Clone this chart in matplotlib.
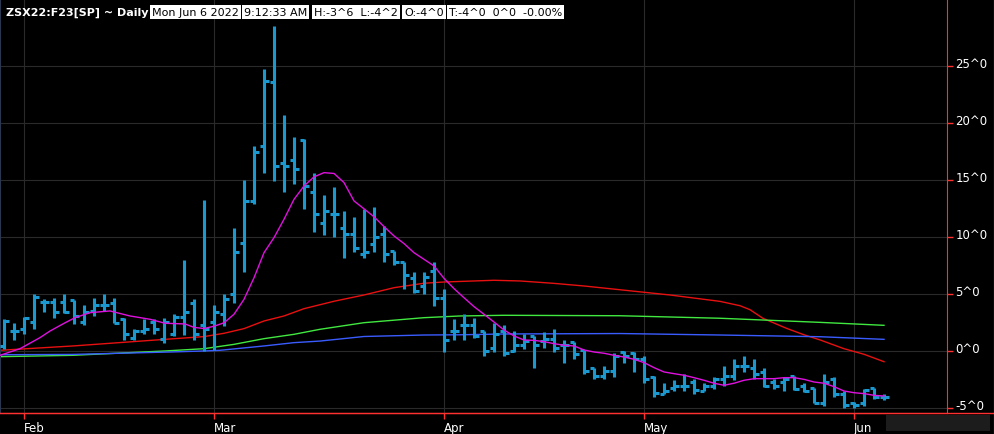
import numpy as np
import pandas as pd
import matplotlib
matplotlib.use('Agg')
import matplotlib.pyplot as plt
import matplotlib.transforms as mtransforms
from matplotlib.lines import Line2D

# trading days shown on the chart (Jan 28 .. Jun 6 2022)
dates = pd.bdate_range('2022-01-28', '2022-06-06', freq='C',
                       holidays=['2022-02-21', '2022-04-15', '2022-05-30'])

# daily OHLC bars (spread, in points)
opens = [0.5, 1.8, 2.0, 2.6, 4.35, 4.35, 4.35, 4.5, 2.55, 3.55, 4.05, 4.25, 2.8, 1.2, 1.8, 2.55,
         1.05, 1.5, 3.0, 4.25, 2.3, 2.55, 3.25, 5.0, 9.5, 13.2, 18.0, 23.6, 16.5, 16.75, 18.55,
         14.0, 11.25, 12.0, 10.8, 10.25, 8.5, 9.45, 10.25, 8.8, 7.85, 6.45, 5.75, 7.05, 4.7,
         1.8, 2.3, 2.3, 1.8, 0.25, 1.8, 0.05, 0.55, 1.35, 0.9, 1.05, 0.55, 0.8, 0.1, -1.45,
         -2.15, -1.75, -0.1, -0.15, -0.7, -2.25, -3.7, -3.25, -3.0, -2.65, -3.5, -3.0, -2.45,
         -2.15, -1.25, -1.5, -1.85, -2.65, -2.65, -2.15, -3.0, -3.25, -4.5, -2.45, -3.7, -4.5,
         -4.5, -3.2, -4.0]
highs = [2.8, 2.5, 3.0, 5.0, 4.6, 4.7, 5.0, 4.5, 4.05, 4.7, 5.0, 4.7, 2.9, 2.0, 2.8, 2.8,
         2.95, 3.25, 8.0, 4.55, 13.25, 4.05, 5.0, 10.8, 15.0, 18.0, 24.75, 28.5, 20.7, 18.8, 18.6,
         15.65, 13.75, 14.45, 12.3, 11.75, 12.5, 12.7, 10.95, 8.8, 7.85, 6.95, 6.95, 7.8, 5.5,
         2.8, 3.25, 2.95, 1.8, 2.5, 2.3, 1.8, 1.5, 1.35, 1.7, 2.0, 1.0, 0.8, 0.1, -1.45,
         -1.25, -0.15, 0.05, -0.1, -0.45, -2.15, -2.75, -2.5, -1.95, -2.45, -2.75, -2.25, -1.25,
         -0.7, -0.45, -0.7, -1.5, -2.45, -2.25, -2.15, -2.75, -3.2, -1.95, -2.25, -3.5, -4.45,
         -3.3, -3.2, -3.75]
lows = [0.2, 1.0, 1.5, 2.0, 3.45, 2.95, 3.4, 2.4, 2.3, 3.1, 3.55, 2.45, 1.0, 1.0, 1.5, 1.5,
        0.75, 1.35, 1.4, 1.0, 0.0, 0.15, 2.2, 4.25, 7.0, 12.95, 15.6, 14.9, 14.0, 14.7, 12.5,
        10.5, 10.2, 10.0, 8.2, 8.7, 8.2, 8.7, 7.8, 7.55, 5.5, 5.15, 5.0, 4.0, -0.05,
        1.0, 1.0, 1.2, -0.45, -0.05, -0.45, -0.1, 0.2, -1.5, 0.25, -0.05, -1.0, -0.7, -1.95, -2.45,
        -2.45, -2.25, -1.0, -1.8, -2.75, -4.0, -3.75, -3.5, -3.5, -3.75, -3.5, -3.3, -3.0,
        -2.5, -1.8, -2.45, -3.1, -3.3, -3.5, -3.35, -3.55, -4.55, -4.8, -4.0, -4.95, -4.95,
        -4.8, -4.2, -4.25]
closes = [2.7, 1.8, 2.95, 4.75, 4.35, 3.45, 3.45, 3.1, 3.45, 4.05, 4.05, 2.5, 1.5, 1.8, 2.0, 1.95,
          2.55, 3.0, 3.45, 1.5, 2.0, 3.45, 4.55, 8.75, 13.2, 17.45, 23.7, 16.25, 16.25, 16.0, 14.5,
          12.0, 12.3, 12.0, 10.25, 9.05, 8.75, 10.05, 8.5, 7.8, 6.7, 5.25, 6.55, 4.7, 1.0,
          1.8, 2.3, 1.3, 0.05, 1.5, -0.15, 0.55, 0.9, 0.55, 1.05, 0.25, 0.55, -0.25, -1.75, -2.15,
          -1.75, -0.45, -0.45, -0.7, -2.45, -3.65, -3.5, -3.0, -3.0, -3.4, -3.0, -2.45, -2.15,
          -1.25, -1.25, -1.95, -3.05, -3.0, -2.45, -3.3, -3.5, -4.5, -2.7, -3.7, -4.75, -4.75,
          -3.4, -4.0, -4.0]

# moving average lines (x = bar index)
magenta_x = [-0.4, 1.6, 3.6, 4.6, 6.1, 7.1, 8.6, 10.6, 12.6, 14.6, 16.1, 18.1] + list(range(19, 89))
magenta_y = [-0.35, 0.23, 1.2, 1.78, 2.5, 2.95, 3.39, 3.54, 3.1, 2.81, 2.46, 2.4,
             2.1, 2.0, 2.2, 2.5, 3.25, 4.56, 6.45, 8.65, 9.97, 11.58, 13.33, 14.5, 15.3, 15.67,
             15.6, 14.8, 13.19, 12.5, 11.8, 10.94, 10.12, 9.45, 8.65, 8.07, 7.49, 6.4, 5.5, 4.7,
             3.92, 3.25, 2.57, 1.87, 1.35, 0.99, 0.96, 0.85, 0.67, 0.53, 0.47, 0.12, -0.06, -0.17,
             -0.35, -0.5, -0.7, -0.99, -1.43, -1.81, -1.96, -2.1, -2.31, -2.54, -2.8, -2.98, -2.8,
             -2.54, -2.4, -2.4, -2.4, -2.31, -2.31, -2.46, -2.69, -2.8, -3.1, -3.48, -3.63, -3.71,
             -3.86, -3.92]
red_x = [-0.4, 6.9, 16.1, 20, 22, 24, 26, 28, 30, 33, 36, 39, 42, 44, 49, 51.6, 55, 58, 61.6,
         66.6, 71.6, 73.6, 74.6, 75.9, 78.3, 80, 81.6, 84, 86, 88]
red_y = [0.09, 0.47, 1.05, 1.29, 1.58, 1.99, 2.66, 3.1, 3.74, 4.39, 4.94, 5.58, 5.97, 6.08,
         6.23, 6.17, 5.96, 5.73, 5.4, 4.94, 4.38, 4.0, 3.65, 2.89, 2.0, 1.45, 1.0, 0.23, -0.26, -0.91]
green_x = [-0.4, 6.9, 16.1, 20, 23, 26, 29, 31.6, 36, 42, 45.6, 50, 61.6, 71.6, 81.6, 88]
green_y = [-0.47, -0.35, 0.03, 0.23, 0.61, 1.11, 1.49, 1.93, 2.51, 2.95, 3.1, 3.16, 3.12,
           2.9, 2.54, 2.28]
blue_x = [-0.4, 6.9, 16.6, 20, 21.6, 26, 29, 31.6, 36, 42, 45.6, 50, 61.6, 71.6, 81.6, 88]
blue_y = [-0.3, -0.27, -0.06, 0.03, 0.09, 0.47, 0.76, 0.9, 1.3, 1.43, 1.45, 1.52, 1.56,
          1.43, 1.28, 1.05]

y_ticks = [-5, 0, 5, 10, 15, 20, 25]

header = 'ZSX22:F23[SP] ~ Daily'
boxes = ['Mon Jun 6 2022', '9:12:33 AM', 'H:-3^6  L:-4^2', 'O:-4^0', 'T:-4^0  0^0  -0.00%']
box_px = [152, 244, 314, 404, 449]

W, H = 994, 435
fig = plt.figure(figsize=(W / 100, H / 100), dpi=100, facecolor='black')
ax = fig.add_axes([0, (H - 414) / H, 947 / W, 414 / H], facecolor='black')

idx = np.arange(len(dates))
bar_col = '#1b98cf'
ax.vlines(idx, lows, highs, color=bar_col, lw=2.2, zorder=3)
ax.hlines(opens, idx - 0.45, idx, color=bar_col, lw=2.2, zorder=3)
ax.hlines(closes, idx, idx + 0.45, color=bar_col, lw=2.2, zorder=3)

ax.plot(red_x, red_y, color='#e81010', lw=1.0, zorder=2)
ax.plot(green_x, green_y, color='#40e840', lw=1.0, zorder=2)
ax.plot(blue_x, blue_y, color='#3a5cff', lw=1.0, zorder=2)
ax.plot(magenta_x, magenta_y, color='#e010e0', lw=1.0, zorder=4)

ax.set_xlim(-0.4, 94.3)
ax.set_ylim(-5.41, 30.9)

month_idx = [i for i in range(1, len(dates)) if dates[i].month != dates[i - 1].month]
ax.set_xticks(month_idx)
ax.set_xticklabels([dates[i].strftime('%b') for i in month_idx], ha='left')
ax.set_yticks(y_ticks)
ax.set_yticklabels([f'{v}^0' for v in y_ticks])
ax.yaxis.tick_right()
ax.tick_params(axis='both', colors='#ff3030', labelcolor='white', length=4, width=1,
               labelsize=8.5, direction='out')
ax.tick_params(axis='x', pad=2)
ax.tick_params(axis='y', pad=2)
# labels in the reference sit a few pixels above their tick marks
shift = mtransforms.ScaledTranslation(0, 4 / 100, fig.dpi_scale_trans)
for lab in ax.get_yticklabels():
    lab.set_transform(lab.get_transform() + shift)
ax.grid(True, color='#2a2a2a', lw=0.8)
ax.set_axisbelow(True)

ax.spines['top'].set_visible(False)
ax.spines['right'].set_color('#ff3030')
ax.spines['bottom'].set_color('#ff3030')
ax.spines['left'].set_color('#2a3550')
ax.spines['left'].set_linewidth(1.5)

# red base line runs the whole width, grey box in the corner
fig.add_artist(Line2D([0, 1], [(H - 414) / H] * 2, color='#ff3030', lw=1.0))
fig.add_artist(plt.Rectangle((886 / W, (H - 432) / H), 104 / W, 16 / H,
                             facecolor='#1c1c1c', edgecolor='none'))
fig.add_artist(Line2D([993.5 / W] * 2, [0, 1], color='#cfcfcf', lw=0.8))

fig.text(6 / W, 1 - 13 / H, header, color='white', fontsize=8, fontweight='bold',
         va='center', ha='left')
for txt, px in zip(boxes, box_px):
    fig.text(px / W, 1 - 13 / H, txt, color='black', fontsize=8, va='center', ha='left',
             bbox=dict(facecolor='white', edgecolor='none', boxstyle='square,pad=0.2'))

fig.savefig('out.png', dpi=100, facecolor='black')
